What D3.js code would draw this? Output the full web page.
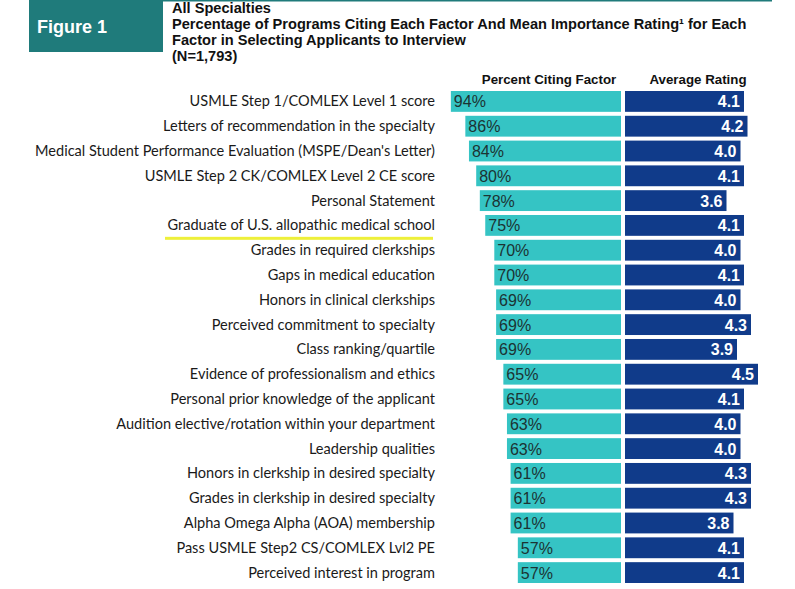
<!DOCTYPE html>
<html><head><meta charset="utf-8">
<script src="https://cdn.jsdelivr.net/npm/d3@7"></script>
<style>body{margin:0;background:#fff;}svg{display:block;}</style>
</head><body>
<svg id="c" width="795" height="589"></svg>
<script>
const categories = [
  "USMLE Step 1/COMLEX Level 1 score",
  "Letters of recommendation in the specialty",
  "Medical Student Performance Evaluation (MSPE/Dean's Letter)",
  "USMLE Step 2 CK/COMLEX Level 2 CE score",
  "Personal Statement",
  "Graduate of U.S. allopathic medical school",
  "Grades in required clerkships",
  "Gaps in medical education",
  "Honors in clinical clerkships",
  "Perceived commitment to specialty",
  "Class ranking/quartile",
  "Evidence of professionalism and ethics",
  "Personal prior knowledge of the applicant",
  "Audition elective/rotation within your department",
  "Leadership qualities",
  "Honors in clerkship in desired specialty",
  "Grades in clerkship in desired specialty",
  "Alpha Omega Alpha (AOA) membership",
  "Pass USMLE Step2 CS/COMLEX Lvl2 PE",
  "Perceived interest in program"
];
const percentCiting = [94,86,84,80,78,75,70,70,69,69,69,65,65,63,63,61,61,61,57,57];
const avgRating = [4.1,4.2,4.0,4.1,3.6,4.1,4.0,4.1,4.0,4.3,3.9,4.5,4.1,4.0,4.0,4.3,4.3,3.8,4.1,4.1];
const highlighted = ["Graduate of U.S. allopathic medical school"];
const titleLines = ["All Specialties",
  "Percentage of Programs Citing Each Factor And Mean Importance Rating\u00b9 for Each",
  "Factor in Selecting Applicants to Interview",
  "(N=1,793)"];
const colHeaders = ["Percent Citing Factor","Average Rating"];

const svg = d3.select("#c");
const TEAL="#35c4c4", BLUE="#103b8a", BOX="#1f7b7b";

// header
svg.append("rect").attr("x",29).attr("y",0).attr("width",134).attr("height",52).attr("fill",BOX);
svg.append("rect").attr("x",163).attr("y",0).attr("width",609).attr("height",1.5).attr("fill",BOX);
svg.append("text").attr("x",37).attr("y",33).attr("fill","#fff")
  .attr("font-family","Liberation Sans, Arial, sans-serif").attr("font-weight","bold").attr("font-size",18)
  .text("Figure 1");
svg.selectAll("text.title").data(titleLines).join("text").attr("class","title")
  .attr("x",172).attr("y",(d,i)=>13+i*16)
  .attr("font-family","Liberation Sans, Arial, sans-serif").attr("font-weight","bold").attr("font-size",14.6)
  .attr("fill","#111").text(d=>d);

// scales
const y = d3.scaleBand().domain(categories).range([91,583]).paddingInner(0.16).paddingOuter(0.0);
const xP = d3.scaleLinear().domain([0,100]).range([621,440]);
const xR = d3.scaleLinear().domain([0.7,4.5]).range([625,758]);

svg.append("text").attr("x",549).attr("y",84).attr("text-anchor","middle")
  .attr("font-family","Liberation Sans, Arial, sans-serif").attr("font-weight","bold").attr("font-size",13.3)
  .attr("fill","#111").text(colHeaders[0]);
svg.append("text").attr("x",698).attr("y",84).attr("text-anchor","middle")
  .attr("font-family","Liberation Sans, Arial, sans-serif").attr("font-weight","bold").attr("font-size",13.3)
  .attr("fill","#111").text(colHeaders[1]);

const rows = svg.selectAll("g.row").data(categories).join("g").attr("class","row");

// labels
rows.append("text").attr("x",435).attr("y",d=>y(d)+y.bandwidth()/2+5)
  .attr("text-anchor","end").attr("font-family","Lato, 'Open Sans', sans-serif").attr("font-size",14.55)
  .attr("fill","#1a1a1a").text(d=>d);

// highlight underline
svg.selectAll("rect.hl").data(highlighted).join("rect").attr("class","hl")
  .attr("x",165).attr("y",d=>y(d)+y.bandwidth()+1).attr("width",268).attr("height",3).attr("fill","#eef03a");

// percent bars
rows.append("rect").attr("x",(d,i)=>xP(percentCiting[i])).attr("y",d=>y(d))
  .attr("width",(d,i)=>xP(0)-xP(percentCiting[i])).attr("height",y.bandwidth()).attr("fill",TEAL);
rows.append("text").attr("x",(d,i)=>xP(percentCiting[i])+3).attr("y",d=>y(d)+y.bandwidth()/2+6)
  .attr("font-family","Liberation Sans, Arial, sans-serif").attr("font-size",16)
  .attr("fill","#1c3333").text((d,i)=>percentCiting[i]+"%");

// rating bars
rows.append("rect").attr("x",xR(0.7)).attr("y",d=>y(d))
  .attr("width",(d,i)=>xR(avgRating[i])-xR(0.7)).attr("height",y.bandwidth()).attr("fill",BLUE);
rows.append("text").attr("x",(d,i)=>xR(avgRating[i])-4).attr("y",d=>y(d)+y.bandwidth()/2+6)
  .attr("text-anchor","end").attr("font-family","Liberation Sans, Arial, sans-serif").attr("font-weight","bold")
  .attr("font-size",16).attr("fill","#fff").text((d,i)=>avgRating[i].toFixed(1));
</script>
</body></html>
